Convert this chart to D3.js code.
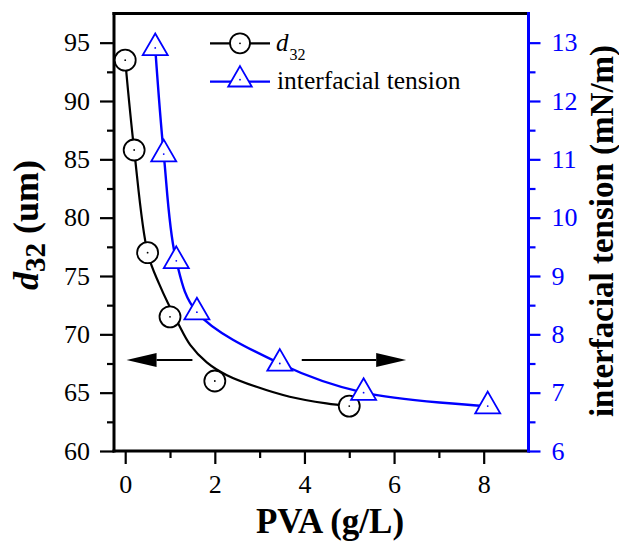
<!DOCTYPE html>
<html>
<head>
<meta charset="utf-8">
<script src="https://cdn.jsdelivr.net/npm/d3@7/dist/d3.min.js"></script>
<style>
  body { margin: 0; background: #fff; }
  svg { display: block; }
  svg text { font-family: 'Liberation Serif', Tinos, 'Times New Roman', 'DejaVu Serif', serif; }
</style>
</head>
<body>
<svg id="chart" width="619" height="543"></svg>
<script>
// Measured droplet size d32 (um) against PVA concentration (g/L)
const pvaD32 = [0, 0.2, 0.5, 1, 2, 5];
const d32 = [93.5, 85.8, 77.0, 71.5, 66.0, 63.85];

// Trend curve drawn through the d32 data
const d32TrendX = [0, 0.2, 0.5, 0.76, 1.2, 1.45, 1.82, 2.27, 2.93, 3.67, 4.49, 5];
const d32TrendY = [93.5, 85.8, 77.0, 74.3, 70.8, 69.1, 67.6, 66.5, 65.5, 64.65, 64.08, 63.85];

// Interfacial tension (mN/m) against PVA concentration (g/L)
const pvaTension = [0.67, 0.86, 1.14, 1.6, 3.45, 5.32, 8.09];
const tension = [12.91, 11.09, 9.26, 8.38, 7.5, 7.0, 6.77];

// Axis ticks
const xTicks = [0, 2, 4, 6, 8];
const xMinorTicks = [1, 3, 5, 7];
const leftTicks = [60, 65, 70, 75, 80, 85, 90, 95];
const leftMinorTicks = [62.5, 67.5, 72.5, 77.5, 82.5, 87.5, 92.5];
const rightTicks = [6, 7, 8, 9, 10, 11, 12, 13];
const rightMinorTicks = [6.5, 7.5, 8.5, 9.5, 10.5, 11.5, 12.5];

// Arrows pointing each curve to its axis: [from x, to x, at left-axis value]
const arrowToLeft = [1.5, 0.03, 67.8];
const arrowToRight = [3.94, 6.27, 67.8];

const W = 619, H = 543;
const margin = { top: 13.5, right: 90.5, bottom: 92, left: 114 };
const BLUE = "#0000ff";
const SERIF = "'Liberation Serif', Tinos, 'Times New Roman', 'DejaVu Serif', serif";

const svg = d3.select("#chart");

const x = d3.scaleLinear().domain([-0.25, 9]).range([margin.left, W - margin.right]);
const yL = d3.scaleLinear().domain([60, 97.5]).range([H - margin.bottom, margin.top]);
const yR = d3.scaleLinear().domain([6, 13.5]).range([H - margin.bottom, margin.top]);

const x0 = margin.left, x1 = W - margin.right, yTop = margin.top, yBot = H - margin.bottom;

// ---- axes ----
function styleAxis(g, color, size) {
  g.attr("font-family", SERIF).attr("font-size", size);
  g.select(".domain").remove();
  g.selectAll(".tick line").attr("stroke", color).attr("stroke-width", 2.2);
  g.selectAll(".tick text").attr("fill", color);
}

// bottom
svg.append("g").attr("transform", `translate(0,${yBot})`)
  .call(d3.axisBottom(x).tickValues(xTicks).tickFormat(d3.format("d")).tickSize(13).tickPadding(11))
  .call(g => styleAxis(g, "#000", 26));
svg.append("g").attr("transform", `translate(0,${yBot})`)
  .call(d3.axisBottom(x).tickValues(xMinorTicks).tickFormat("").tickSize(7))
  .call(g => styleAxis(g, "#000", 26));

// left
svg.append("g").attr("transform", `translate(${x0},0)`)
  .call(d3.axisLeft(yL).tickValues(leftTicks).tickFormat(d3.format("d")).tickSize(14).tickPadding(10))
  .call(g => styleAxis(g, "#000", 26));
svg.append("g").attr("transform", `translate(${x0},0)`)
  .call(d3.axisLeft(yL).tickValues(leftMinorTicks).tickFormat("").tickSize(7))
  .call(g => styleAxis(g, "#000", 26));

// right
svg.append("g").attr("transform", `translate(${x1},0)`)
  .call(d3.axisRight(yR).tickValues(rightTicks).tickFormat(d3.format("d")).tickSize(12).tickPadding(11))
  .call(g => styleAxis(g, BLUE, 26));
svg.append("g").attr("transform", `translate(${x1},0)`)
  .call(d3.axisRight(yR).tickValues(rightMinorTicks).tickFormat("").tickSize(7))
  .call(g => styleAxis(g, BLUE, 26));

// frame
const frame = svg.append("g").attr("fill", "none").attr("stroke-linecap", "square");
frame.append("line").attr("x1", x0).attr("x2", x1).attr("y1", yTop).attr("y2", yTop)
  .attr("stroke", "#000").attr("stroke-width", 3);
frame.append("line").attr("x1", x0).attr("x2", x0).attr("y1", yTop).attr("y2", yBot)
  .attr("stroke", "#000").attr("stroke-width", 3);
frame.append("line").attr("x1", x0).attr("x2", x1).attr("y1", yBot).attr("y2", yBot)
  .attr("stroke", "#000").attr("stroke-width", 3);
frame.append("line").attr("x1", x1).attr("x2", x1).attr("y1", yTop).attr("y2", yBot)
  .attr("stroke", BLUE).attr("stroke-width", 3);

// ---- curves ----
const trend = d3.zip(d32TrendX, d32TrendY);
svg.append("path")
  .datum(trend)
  .attr("fill", "none").attr("stroke", "#000").attr("stroke-width", 2.2)
  .attr("d", d3.line().x(d => x(d[0])).y(d => yL(d[1])).curve(d3.curveCatmullRom.alpha(0.5)));

const tensionPts = d3.zip(pvaTension, tension);
svg.append("path")
  .datum(tensionPts)
  .attr("fill", "none").attr("stroke", BLUE).attr("stroke-width", 2.4)
  .attr("d", d3.line().x(d => x(d[0])).y(d => yR(d[1])).curve(d3.curveCatmullRom.alpha(0.5)));

// ---- markers ----
const circleR = 10.5;
const triangle = d3.symbol().type(d3.symbolTriangle).size(270);

const d32Pts = d3.zip(pvaD32, d32);
const cg = svg.append("g");
cg.selectAll("circle.m").data(d32Pts).join("circle").attr("class", "m")
  .attr("cx", d => x(d[0])).attr("cy", d => yL(d[1])).attr("r", circleR)
  .attr("fill", "#fff").attr("stroke", "#000").attr("stroke-width", 1.8);
cg.selectAll("circle.c").data(d32Pts).join("circle").attr("class", "c")
  .attr("cx", d => x(d[0])).attr("cy", d => yL(d[1])).attr("r", 0.9).attr("fill", "#000");

const tg = svg.append("g");
tg.selectAll("path.m").data(tensionPts).join("path").attr("class", "m")
  .attr("transform", d => `translate(${x(d[0])},${yR(d[1])})`)
  .attr("d", triangle)
  .attr("fill", "#fff").attr("stroke", BLUE).attr("stroke-width", 1.8);
tg.selectAll("circle.c").data(tensionPts).join("circle").attr("class", "c")
  .attr("cx", d => x(d[0])).attr("cy", d => yR(d[1])).attr("r", 0.9).attr("fill", BLUE);

// ---- arrows ----
function arrow(spec) {
  const [from, to, level] = spec;
  const xs = x(from), xe = x(to), yy = yL(level);
  const dir = Math.sign(xe - xs);
  const headLen = 30, headHalf = 7;
  svg.append("line")
    .attr("x1", xs).attr("x2", xe - dir * headLen).attr("y1", yy).attr("y2", yy)
    .attr("stroke", "#000").attr("stroke-width", 2.2);
  svg.append("path")
    .attr("d", `M${xe},${yy}L${xe - dir * headLen},${yy - headHalf}L${xe - dir * headLen},${yy + headHalf}Z`)
    .attr("fill", "#000");
}
arrow(arrowToLeft);
arrow(arrowToRight);

// ---- legend ----
const lg = svg.append("g").attr("font-family", SERIF);
const lx0 = 210, lx1 = 270, lmid = 240;
const row1 = 43.3, row2 = 81.7;
lg.append("line").attr("x1", lx0).attr("x2", lx1).attr("y1", row1).attr("y2", row1)
  .attr("stroke", "#000").attr("stroke-width", 2.2);
lg.append("circle").attr("cx", lmid).attr("cy", row1).attr("r", 10)
  .attr("fill", "#fff").attr("stroke", "#000").attr("stroke-width", 1.8);
lg.append("circle").attr("cx", lmid).attr("cy", row1).attr("r", 0.9).attr("fill", "#000");
const t1 = lg.append("text").attr("x", 276).attr("y", 51).attr("font-size", 25).attr("fill", "#000");
t1.append("tspan").attr("font-style", "italic").text("d");
t1.append("tspan").attr("dy", 9).attr("dx", 1).attr("font-size", 16).text("32");

lg.append("line").attr("x1", lx0).attr("x2", lx1).attr("y1", row2).attr("y2", row2)
  .attr("stroke", BLUE).attr("stroke-width", 2.2);
lg.append("path").attr("transform", `translate(${lmid},${row2 - 2})`).attr("d", d3.symbol().type(d3.symbolTriangle).size(240))
  .attr("fill", "#fff").attr("stroke", BLUE).attr("stroke-width", 1.8);
lg.append("circle").attr("cx", lmid).attr("cy", row2 - 2).attr("r", 0.9).attr("fill", BLUE);
lg.append("text").attr("x", 277).attr("y", 89).attr("font-size", 25.5).attr("fill", "#000")
  .text("interfacial tension");

// ---- axis titles ----
svg.append("text")
  .attr("x", 330).attr("y", 533)
  .attr("text-anchor", "middle")
  .attr("font-family", SERIF).attr("font-weight", "bold").attr("font-size", 35)
  .text("PVA (g/L)");

const yl = svg.append("text")
  .attr("transform", "translate(38,225) rotate(-90)")
  .attr("text-anchor", "middle")
  .attr("font-family", SERIF).attr("font-weight", "bold").attr("font-size", 36);
yl.append("tspan").attr("font-style", "italic").text("d");
yl.append("tspan").attr("dy", 7).attr("font-size", 29).text("32");
yl.append("tspan").attr("dy", -7).text(" (um)");

svg.append("text")
  .attr("transform", "translate(613,231) rotate(-90)")
  .attr("text-anchor", "middle")
  .attr("font-family", SERIF).attr("font-weight", "bold").attr("font-size", 33)
  .attr("fill", "#000")
  .text("interfacial tension (mN/m)");
</script>
</body>
</html>
